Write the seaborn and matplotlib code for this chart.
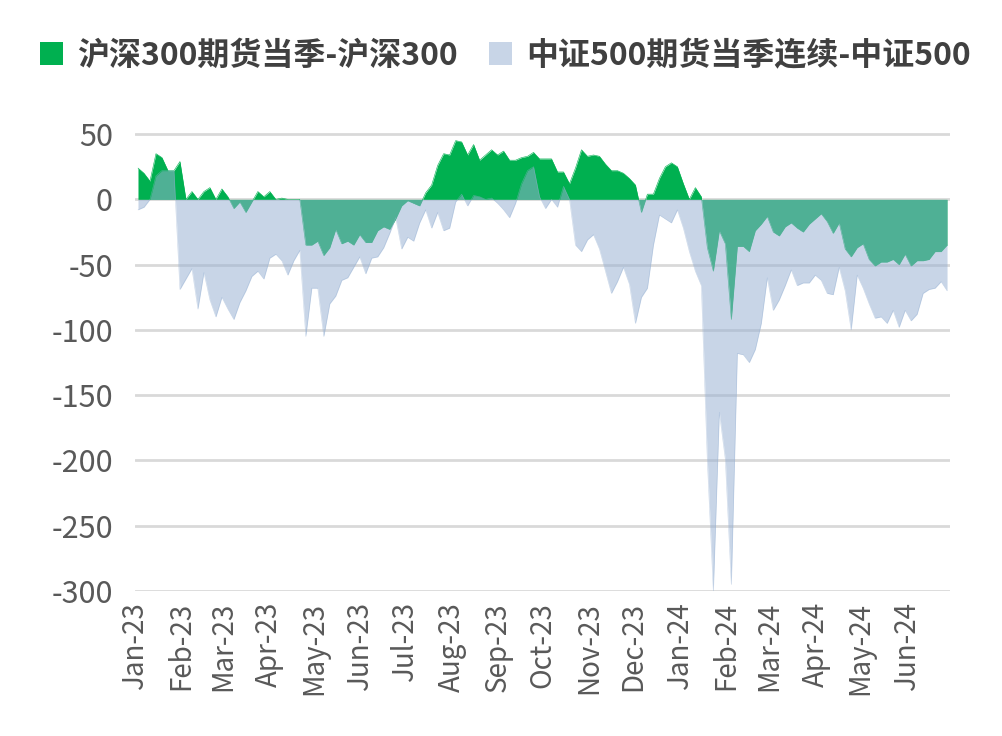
import pandas as pd
import numpy as np
import matplotlib
matplotlib.use('Agg')
import matplotlib.pyplot as plt
import matplotlib.dates as mdates
from matplotlib.patches import Patch
import seaborn as sns

# basis values (index points), roughly every 4 calendar days
hs300_basis = [
    24, 20, 14, 35, 32, 22, 22, 29, 0, 6, 0, 6, 9, 0, 8, 2, -7, -2, -10, -2,
    6, 2, 6, 0, 1, 0, 0, 0, -35, -35, -32, -43, -37, -23, -34, -32, -35, -27, -33, -33,
    -24, -21, -23, -15, -5, -1, -3, -5, 5, 11, 26, 35, 34, 45, 44, 34, 42, 30, 34, 38,
    34, 37, 30, 30, 32, 33, 36, 31, 31, 31, 21, 21, 12, 24, 38, 33, 34, 33, 27, 22,
    22, 20, 16, 11, -10, 4, 4, 16, 25, 28, 25, 12, 0, 9, 2, -37, -55, -24, -34, -92,
    -36, -36, -40, -24, -19, -13, -25, -28, -21, -18, -22, -25, -19, -15, -11, -17, -26, -18, -38, -44,
    -37, -34, -46, -51, -48, -48, -46, -50, -42, -51, -47, -47, -46, -40, -40, -35,
]
zz500_basis = [
    -8, -6, 0, 18, 22, 22, 22, -69, -61, -53, -84, -56, -77, -90, -75, -84, -92, -79, -70, -59,
    -55, -61, -45, -42, -47, -58, -47, -39, -105, -68, -68, -105, -80, -74, -62, -60, -52, -44, -57, -45,
    -44, -37, -26, -14, -38, -29, -32, -18, -8, -22, -10, -24, -22, -2, 4, -5, 3, 2, 0, 1,
    -3, -8, -14, -3, 12, 22, 25, 2, -7, 0, -6, 10, 0, -35, -40, -31, -27, -38, -55, -72,
    -63, -52, -65, -95, -75, -68, -35, -12, -15, -18, -8, -22, -40, -55, -66, -200, -300, -163, -199, -295,
    -118, -119, -125, -115, -95, -60, -85, -77, -66, -54, -66, -64, -64, -58, -62, -72, -73, -52, -70, -100,
    -58, -68, -80, -91, -90, -95, -85, -98, -85, -93, -88, -72, -69, -68, -63, -70,
]
dates = pd.date_range('2023-01-03', '2024-06-28', periods=len(hs300_basis))
labels = ['沪深300期货当季-沪深300', '中证500期货当季连续-中证500']

df = pd.DataFrame({'date': dates, 'hs300': hs300_basis, 'zz500': zz500_basis})

green = '#00B050'
blue = '#97B1D3'
text_color = '#595959'

sns.set_theme(style='white')
plt.rcParams['font.family'] = ['Noto Sans CJK SC', 'DejaVu Sans']
plt.rcParams['axes.unicode_minus'] = False

fig = plt.figure(figsize=(10.03, 7.36), dpi=100)
ax = fig.add_axes([0.1346, 0.197, 0.8126, 0.635])

# green series first, light blue drawn over it half transparent
sns.lineplot(data=df, x='date', y='hs300', ax=ax, color=green, lw=0.4)
ax.fill_between(df['date'], df['hs300'], 0, color=green, lw=0, zorder=2)
sns.lineplot(data=df, x='date', y='zz500', ax=ax, color=blue, lw=0.4, alpha=0.53)
ax.fill_between(df['date'], df['zz500'], 0, color=blue, alpha=0.53, lw=0, zorder=3)

ax.set_ylim(-300, 58)
ax.set_xlim(pd.Timestamp('2023-01-01'), pd.Timestamp('2024-06-30'))
ax.set_yticks(np.arange(-300, 51, 50))
ax.yaxis.grid(True, color='#D9D9D9', lw=2)
ax.set_axisbelow(True)
for s in ax.spines.values():
    s.set_visible(False)

ax.xaxis.set_major_locator(mdates.MonthLocator())
ax.xaxis.set_major_formatter(mdates.DateFormatter('%b-%y'))
ax.tick_params(axis='x', labelrotation=90, labelsize=20, colors=text_color, length=0, pad=8)
ax.tick_params(axis='y', labelsize=22, colors=text_color, length=0, pad=16)
ax.set_xlabel('')
ax.set_ylabel('')

handles = [Patch(facecolor=green, edgecolor='none'),
           Patch(facecolor=blue, alpha=0.53, edgecolor='none')]
leg = fig.legend(handles, labels, loc='upper center', bbox_to_anchor=(0.504, 0.985), ncol=2,
                 frameon=False, handlelength=0.7, handleheight=0.7, handletextpad=0.45,
                 columnspacing=1.0, prop={'size': 23, 'weight': 'bold'})
for t in leg.get_texts():
    t.set_color('#404040')

fig.savefig('out.png', dpi=100)
